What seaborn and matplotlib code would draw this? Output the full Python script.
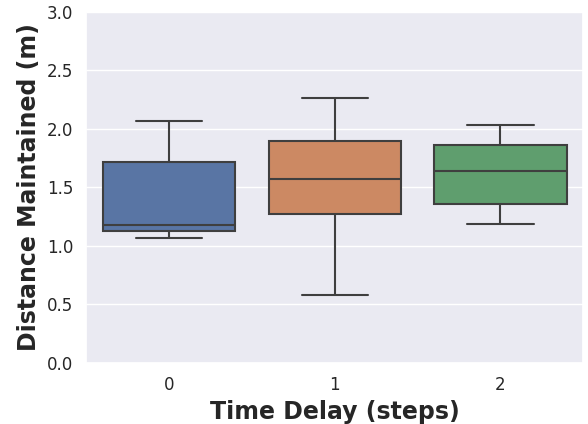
import pandas as pd
import matplotlib.pyplot as plt
import seaborn as sns

# Five-number summaries (min, q1, median, q3, max)
delay_0 = [1.07, 1.13, 1.18, 1.72, 2.07]
delay_1 = [0.58, 1.27, 1.57, 1.90, 2.26]
delay_2 = [1.19, 1.36, 1.64, 1.86, 2.03]
delays = ['0', '1', '2']

df = pd.DataFrame({
    'delay': [delays[0]] * len(delay_0) + [delays[1]] * len(delay_1) + [delays[2]] * len(delay_2),
    'distance': delay_0 + delay_1 + delay_2,
})

sns.set_theme(style='darkgrid')
fig, ax = plt.subplots(figsize=(5.88, 4.24), dpi=100)
sns.boxplot(data=df, x='delay', y='distance', hue='delay', palette='deep',
            legend=False, linewidth=1.5, linecolor='#3f3f3f', ax=ax)
ax.set_ylim(0, 3.0)
ax.set_xlabel('Time Delay (steps)', fontsize=17, fontweight='bold')
ax.set_ylabel('Distance Maintained (m)', fontsize=17, fontweight='bold')
ax.tick_params(labelsize=12)
fig.subplots_adjust(left=0.147, right=0.992, top=0.972, bottom=0.144)
fig.savefig('out.png', dpi=100)
